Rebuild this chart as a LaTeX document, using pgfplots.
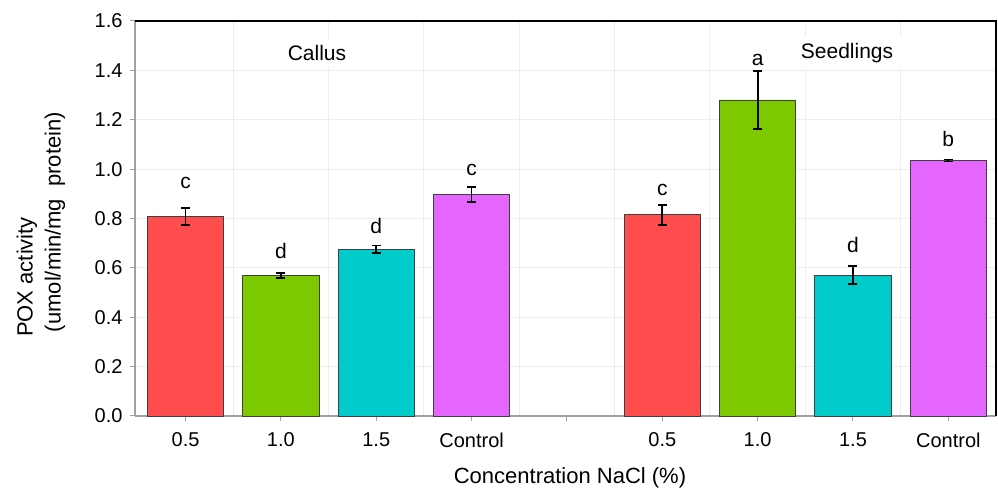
\documentclass[border=0pt]{standalone}
\usepackage{pgfplots}
\pgfplotsset{compat=1.18}
\usepackage{fontspec}
\setmainfont{Liberation Sans}
\definecolor{cred}{HTML}{FF4D4D}
\definecolor{cgreen}{HTML}{7DC900}
\definecolor{ccyan}{HTML}{00CBCB}
\definecolor{cmag}{HTML}{E566FF}
\definecolor{axgray}{HTML}{A0A0A0}
\definecolor{gridc}{HTML}{EDEDED}
\begin{document}
\begin{tikzpicture}
\useasboundingbox (-135pt,-76pt) rectangle (863pt,416pt);
\begin{axis}[
  at={(0,0)}, anchor=south west,
  scale only axis, width=861pt, height=395pt,
  xmin=-0.53, xmax=8.5, ymin=0, ymax=1.6,
  axis x line*=bottom, axis y line*=left,
  axis line style={axgray, line width=1.2pt},
  xtick={0,1,2,3,4,5,6,7,8},
  xticklabels={0.5,1.0,1.5,Control,,0.5,1.0,1.5,Control},
  ytick={0,0.2,...,1.6},
  yticklabel style={/pgf/number format/fixed, /pgf/number format/fixed zerofill, /pgf/number format/precision=1, xshift=-4pt},
  /pgf/number format/assume math mode=true,
  tick align=outside, major tick length=5pt,
  tick style={axgray, line width=1pt},
  minor xtick={0.5,1.5,2.5,3.5,4.5,5.5,6.5,7.5},
  minor tick length=0pt,
  ymajorgrids, xminorgrids,
  major grid style={gridc, line width=1pt},
  minor grid style={gridc, line width=1pt},
  tick label style={font=\fontsize{20}{24}\selectfont},
  xticklabel style={yshift=-8pt},
  ybar, bar width=0.8, bar shift=0pt,
  clip=false,
  every axis plot/.append style={draw=black!75, line width=0.8pt},
  error bars/error bar style={black, line width=1.8pt},
  error bars/error mark options={rotate=90, mark size=4.5pt, line width=1.8pt, black},
]
\addplot[fill=cred, error bars/.cd, y dir=both, y explicit]
  coordinates {(0,0.807) +- (0,0.034) (5,0.815) +- (0,0.04)};
\addplot[fill=cgreen, error bars/.cd, y dir=both, y explicit]
  coordinates {(1,0.569) +- (0,0.010) (6,1.28) +- (0,0.117)};
\addplot[fill=ccyan, error bars/.cd, y dir=both, y explicit]
  coordinates {(2,0.675) +- (0,0.016) (7,0.571) +- (0,0.037)};
\addplot[fill=cmag, error bars/.cd, y dir=both, y explicit]
  coordinates {(3,0.898) +- (0,0.031) (8,1.035) +- (0,0.004)};
\draw[black, line width=1.6pt] (rel axis cs:0,1) -- (rel axis cs:1,1) -- (rel axis cs:1,0);
\begin{scope}[every node/.style={font=\fontsize{21}{25}\selectfont, anchor=base}]
\node at (axis cs:0,0.923) {c};
\node at (axis cs:1,0.636) {d};
\node at (axis cs:2,0.741) {d};
\node at (axis cs:3,0.975) {c};
\node at (axis cs:5,0.895) {c};
\node at (axis cs:6,1.421) {a};
\node at (axis cs:7,0.661) {d};
\node at (axis cs:8,1.09) {b};
\end{scope}
\end{axis}
\node[fill=white, font=\fontsize{21}{25}\selectfont, inner xsep=25pt, inner ysep=6pt] at (182pt,363pt) {Callus};
\node[fill=white, font=\fontsize{21}{25}\selectfont, inner xsep=25pt, inner ysep=6pt] at (712pt,363pt) {Seedlings};
\node[font=\fontsize{22}{26}\selectfont, rotate=90] at (-108pt,139pt) {POX activity};
\node[font=\fontsize{22}{26}\selectfont, rotate=90] at (-80pt,194pt) {(umol/min/mg\ \ protein)};
\node[font=\fontsize{22}{26}\selectfont] at (435pt,-62pt) {Concentration NaCl (\%)};
\end{tikzpicture}
\end{document}
